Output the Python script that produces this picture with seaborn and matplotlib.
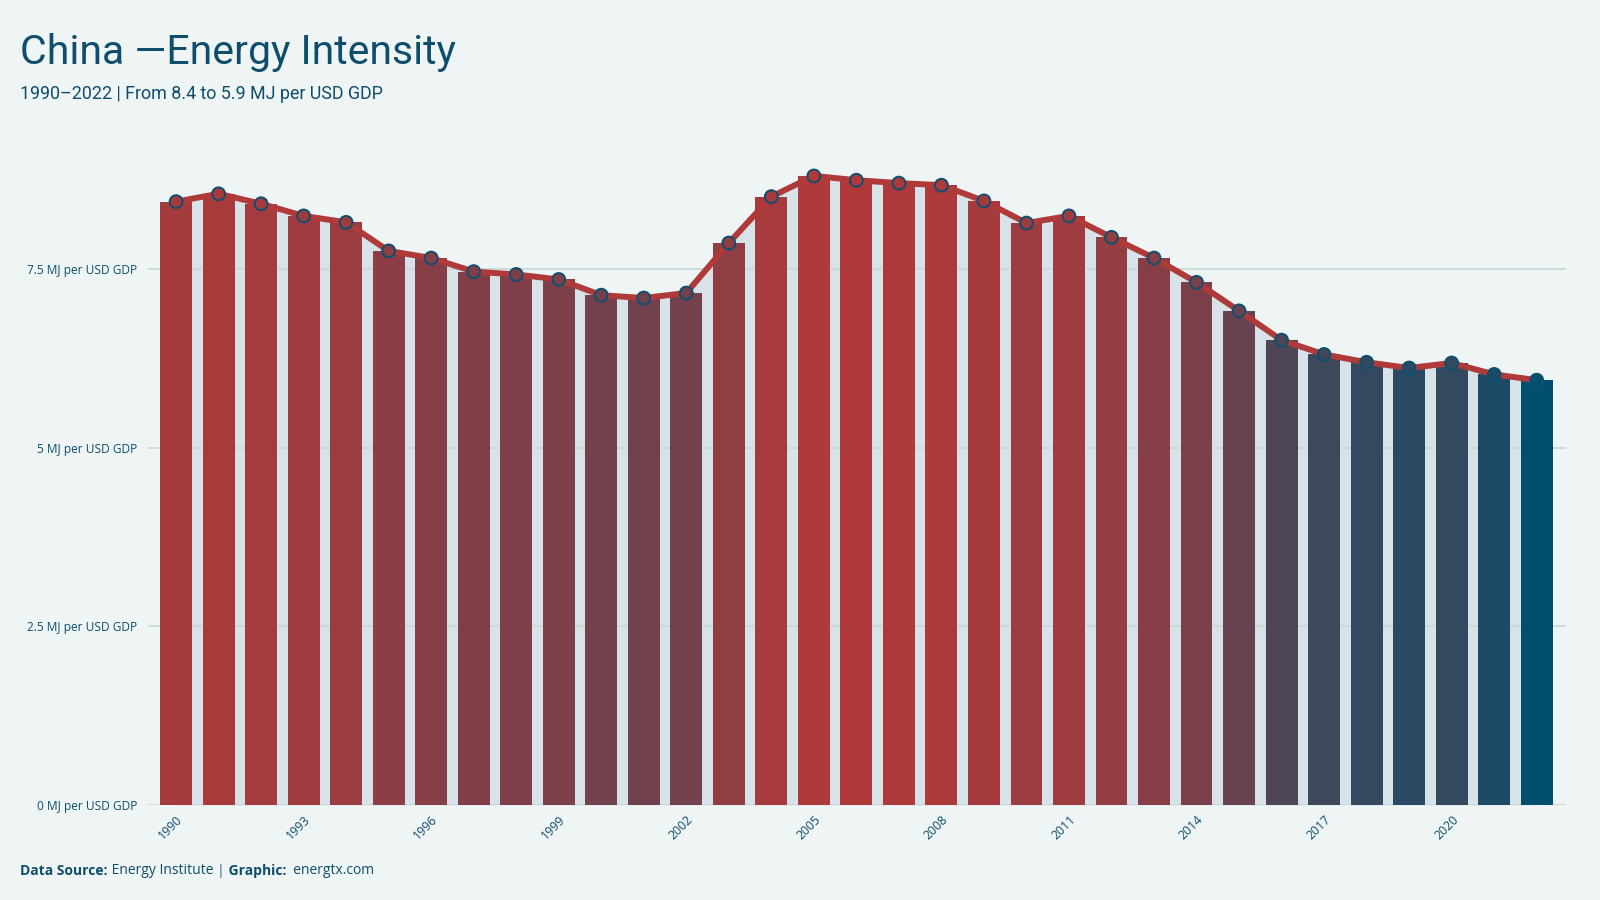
import numpy as np
import pandas as pd
import matplotlib
matplotlib.use("Agg")
import matplotlib.pyplot as plt
import seaborn as sns
from matplotlib.colors import LinearSegmentedColormap, PowerNorm

# ---- data ----
years = list(range(1990, 2023))
intensity = [8.45, 8.56, 8.42, 8.25, 8.16, 7.76, 7.66, 7.47, 7.43, 7.36,
             7.14, 7.10, 7.17, 7.87, 8.52, 8.81, 8.75, 8.71, 8.68, 8.46,
             8.15, 8.25, 7.95, 7.66, 7.32, 6.92, 6.51, 6.31, 6.20, 6.12,
             6.19, 6.03, 5.95]
ytick_vals = [0, 2.5, 5, 7.5]
ytick_labels = ["0 MJ per USD GDP", "2.5 MJ per USD GDP", "5 MJ per USD GDP", "7.5 MJ per USD GDP"]
xtick_years = list(range(1990, 2021, 3))

title = "China \u2014Energy Intensity"
subtitle = "1990\u20132022 | From 8.4 to 5.9 MJ per USD GDP"

BG = "#eff5f5"
TXT = "#0e4d6b"
RED = "#b0393a"
BLUE = "#004f6e"
FILL = "#d7e3e8"

sns.set_theme(style="white")
plt.rcParams["font.family"] = ["Open Sans", "DejaVu Sans"]

df = pd.DataFrame({"year": [str(y) for y in years], "value": intensity})
cmap = LinearSegmentedColormap.from_list("rb", [BLUE, RED])
norm = PowerNorm(gamma=0.5, vmin=min(intensity), vmax=max(intensity))
colors = [cmap(norm(v)) for v in intensity]

fig = plt.figure(figsize=(16, 9), dpi=100, facecolor=BG)
ax = fig.add_axes([0.0925, 0.1056, 0.886, 0.714])
ax.set_facecolor(BG)

n = len(years)
xpos = np.arange(n)
ax.fill_between(xpos, 0, intensity, color=FILL, lw=0, zorder=1)

sns.barplot(data=df, x="year", y="value", hue="year", palette=colors,
            legend=False, width=0.75, saturation=1, ax=ax, zorder=2,
            linewidth=0, edgecolor="none")

ax.plot(xpos, intensity, color=RED, lw=4.3, zorder=3, solid_capstyle="round")
ax.scatter(xpos, intensity, s=85, c=colors, edgecolors="#0d4f6e", linewidths=1.4, zorder=4)

ax.set_xlim(-0.66, 32.68)
ax.set_ylim(0, 9.0)
ax.set_yticks(ytick_vals)
ax.set_yticklabels(ytick_labels)
ax.yaxis.grid(True, color="#c8d6d9", lw=1.2)
ax.set_axisbelow("line")
ax.xaxis.grid(False)
ax.set_xticks([years.index(y) for y in xtick_years])
ax.set_xticklabels([str(y) for y in xtick_years], rotation=45, ha="right",
                   rotation_mode="anchor")
ax.tick_params(axis="y", length=0, pad=8, labelsize=8.6, labelcolor=TXT)
ax.tick_params(axis="x", length=0, pad=6, labelsize=8.8, labelcolor=TXT)
ax.set_xlabel("")
ax.set_ylabel("")
for s in ax.spines.values():
    s.set_visible(False)

cond = ["Roboto", "DejaVu Sans"]
fig.text(0.0128, 1 - 53 / 900, title, fontsize=29.5, color=TXT, va="center", ha="left", family=cond)
fig.text(0.0128, 1 - 94 / 900, subtitle, fontsize=12.9, color=TXT, va="center", ha="left", family=cond)

# footer
pieces = [("Data Source:", "bold", TXT), (" Energy Institute ", "normal", TXT),
          ("|", "bold", "#7a95a5"), (" Graphic:", "bold", TXT), ("  energtx.com", "normal", TXT)]
fig.canvas.draw()
renderer = fig.canvas.get_renderer()
x0 = 0.0128
for txt, w, c in pieces:
    t = fig.text(x0, 1 - 871 / 900, txt, fontsize=10, fontweight=w, color=c, va="center", ha="left")
    bb = t.get_window_extent(renderer=renderer)
    x0 = bb.x1 / fig.bbox.width

fig.savefig("out.png", dpi=100, facecolor=BG)
